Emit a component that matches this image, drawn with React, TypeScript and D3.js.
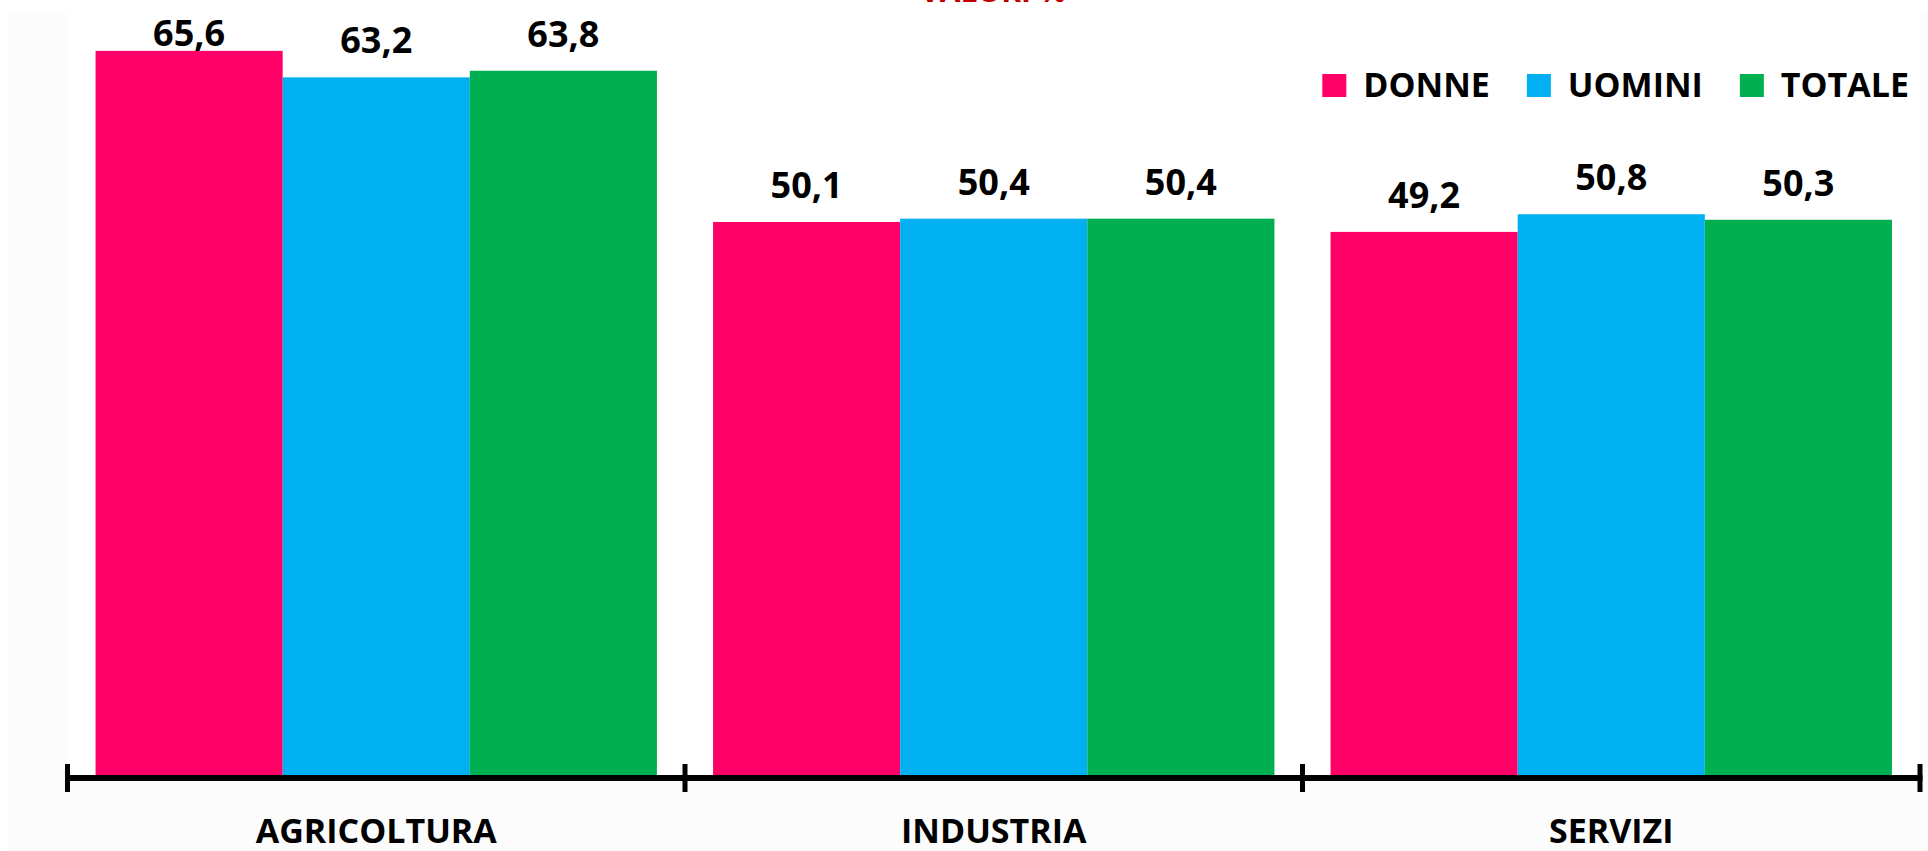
import React, { useEffect, useRef } from "react";
import * as d3 from "d3";

const categories = ["AGRICOLTURA", "INDUSTRIA", "SERVIZI"];
const seriesNames = ["DONNE", "UOMINI", "TOTALE"];
const donne = [65.6, 50.1, 49.2];
const uomini = [63.2, 50.4, 50.8];
const totale = [63.8, 50.4, 50.3];
const colors = ["#FF0066", "#00B0F0", "#00B050"];
const titleText = "VALORI %";

const W = 1928;
const H = 851;

export default function App() {
  const ref = useRef<SVGSVGElement | null>(null);

  useEffect(() => {
    const svg = d3.select(ref.current);
    svg.selectAll("*").remove();
    const font = "'Open Sans', sans-serif";
    const series = [donne, uomini, totale];

    const plotL = 67.5, plotR = 1920, plotB = 775, plotT = 2.3;

    // backgrounds
    svg.append("rect").attr("x", 0).attr("y", 0).attr("width", W).attr("height", H).attr("fill", "#ffffff");
    svg.append("rect").attr("x", 8).attr("y", 13).attr("width", W - 8).attr("height", H - 13).attr("fill", "#fcfcfc");
    svg.append("rect").attr("x", plotL).attr("y", 13).attr("width", plotR - plotL).attr("height", plotB - 13).attr("fill", "#ffffff");

    // title (mostly cut off at top, as in the source)
    svg.append("text").attr("x", 993).attr("y", 2).attr("text-anchor", "middle")
      .attr("font-family", font).attr("font-weight", 700).attr("font-size", 30)
      .attr("fill", "#C00000").text(titleText);

    const x0 = d3.scaleBand<string>().domain(categories).range([plotL, plotR]).paddingInner(0).paddingOuter(0);
    const bw = x0.bandwidth() / 3.3;
    const x1 = d3.scaleBand<string>().domain(seriesNames)
      .range([0.15 * bw, 0.15 * bw + 3 * bw]).paddingInner(0).paddingOuter(0);
    const y = d3.scaleLinear().domain([0, 70]).range([plotB, plotT]);

    const data = categories.flatMap((c, ci) =>
      seriesNames.map((s, si) => ({ c, s, si, v: series[si][ci] }))
    );

    const g = svg.append("g");
    g.selectAll("rect.bar").data(data).enter().append("rect")
      .attr("class", "bar")
      .attr("x", (d) => (x0(d.c) as number) + (x1(d.s) as number))
      .attr("y", (d) => y(d.v))
      .attr("width", x1.bandwidth())
      .attr("height", (d) => plotB - y(d.v))
      .attr("fill", (d) => colors[d.si]);

    g.selectAll("text.lbl").data(data).enter().append("text")
      .attr("class", "lbl")
      .attr("x", (d) => (x0(d.c) as number) + (x1(d.s) as number) + x1.bandwidth() / 2)
      .attr("y", (d) => Math.max(y(d.v) - 24, 46))
      .attr("text-anchor", "middle")
      .attr("font-family", font).attr("font-weight", 700).attr("font-size", 36)
      .attr("fill", "#000")
      .text((d) => d3.format(".1f")(d.v).replace(".", ","));

    // axis
    svg.append("line").attr("x1", plotL - 2.5).attr("x2", plotR + 2.5).attr("y1", 778).attr("y2", 778)
      .attr("stroke", "#000").attr("stroke-width", 6);
    const tickXs = [...categories.map((c) => x0(c) as number), plotR];
    svg.selectAll("line.tick").data(tickXs).enter().append("line")
      .attr("class", "tick")
      .attr("x1", (d) => d).attr("x2", (d) => d).attr("y1", 764).attr("y2", 792)
      .attr("stroke", "#000").attr("stroke-width", 5);

    svg.selectAll("text.cat").data(categories).enter().append("text")
      .attr("class", "cat")
      .attr("x", (d) => (x0(d) as number) + x0.bandwidth() / 2)
      .attr("y", 843)
      .attr("text-anchor", "middle")
      .attr("font-family", font).attr("font-weight", 700).attr("font-size", 34)
      .attr("fill", "#000").text((d) => d);

    // legend, right-aligned
    const lg = svg.append("g");
    const items = seriesNames.map((s, i) => {
      const it = lg.append("g");
      it.append("rect").attr("x", 0).attr("y", 74).attr("width", 24).attr("height", 23).attr("fill", colors[i]);
      const t = it.append("text").attr("x", 41).attr("y", 97)
        .attr("font-family", font).attr("font-weight", 700).attr("font-size", 34)
        .attr("fill", "#000").text(s);
      const tw = (t.node() as SVGTextElement).getComputedTextLength();
      return { it, w: 41 + tw };
    });
    const gap = 37;
    const total = items.reduce((a, b) => a + b.w, 0) + gap * (items.length - 1);
    let cx = 1909 - total;
    items.forEach((o) => {
      o.it.attr("transform", `translate(${cx},0)`);
      cx += o.w + gap;
    });
  }, []);

  return (
    <svg
      ref={ref}
      width={W}
      height={H}
      style={{ position: "absolute", left: 0, top: 0, display: "block" }}
    />
  );
}
